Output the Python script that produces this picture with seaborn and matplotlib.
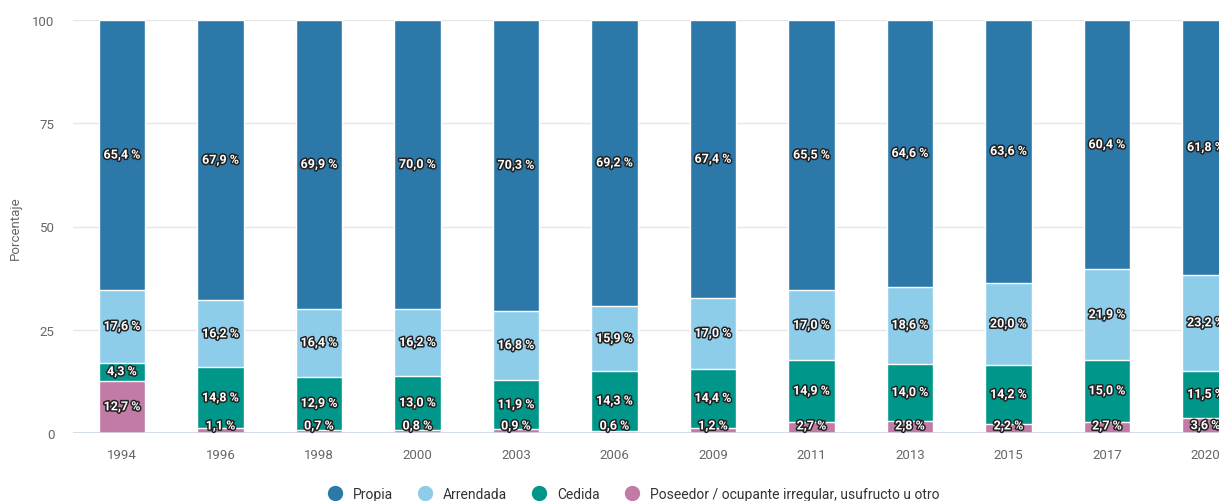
import matplotlib
matplotlib.use('Agg')
import matplotlib.pyplot as plt
import matplotlib.patheffects as pe
from matplotlib.lines import Line2D
import pandas as pd
import seaborn as sns

# %% data (percent of households by tenure)
years = ['1994', '1996', '1998', '2000', '2003', '2006', '2009', '2011', '2013', '2015', '2017', '2020']
propia = [65.4, 67.9, 69.9, 70.0, 70.3, 69.2, 67.4, 65.5, 64.6, 63.6, 60.4, 61.8]
arrendada = [17.6, 16.2, 16.4, 16.2, 16.8, 15.9, 17.0, 17.0, 18.6, 20.0, 21.9, 23.2]
cedida = [4.3, 14.8, 12.9, 13.0, 11.9, 14.3, 14.4, 14.9, 14.0, 14.2, 15.0, 11.5]
poseedor = [12.7, 1.1, 0.7, 0.8, 0.9, 0.6, 1.2, 2.7, 2.8, 2.2, 2.7, 3.6]

names = ['Propia', 'Arrendada', 'Cedida', 'Poseedor / ocupante irregular, usufructo u otro']
colors = ['#2c78a9', '#8ecde9', '#00968a', '#c27ba4']
raw = dict(zip(names, [propia, arrendada, cedida, poseedor]))

df = pd.DataFrame({'year': years, **raw})
# percent stacking: normalise each year to 100
tot = df[names].sum(axis=1)
for n in names:
    df[n] = df[n] / tot * 100

# stack from the bottom: poseedor, cedida, arrendada, propia
stack_order = names[::-1]
cum = df[stack_order].cumsum(axis=1)

# %% plot
sns.set_theme(style='white')
plt.rcParams['font.family'] = ['Roboto', 'DejaVu Sans']

W, H = 1219, 502
fig = plt.figure(figsize=(W / 100, H / 100), dpi=100)
ax = fig.add_axes([72.75 / W, 68 / H, 1182 / W, 413 / H])

# draw top of stack first so lower segments sit on top
for n, c in zip(names, colors):
    sns.barplot(x=df['year'], y=cum[n], color=c, width=0.47, ax=ax,
                edgecolor='white', linewidth=1, saturation=1, order=years)

# labels
for i, y in enumerate(years):
    bottom = 0
    for n in stack_order:
        v = df.loc[i, n]
        yc = max(bottom + v / 2, 1.7)
        ax.text(i, yc, f'{raw[n][i]:.1f} %'.replace('.', ','), ha='center', va='center',
                fontsize=9, fontweight='bold', color='white',
                path_effects=[pe.withStroke(linewidth=2.2, foreground='#222222')], zorder=5)
        bottom += v

ax.set_xlim(-0.5, 11.5)
ax.set_ylim(0, 100)
ax.set_yticks([0, 25, 50, 75, 100])
ax.set_xlabel('')
ax.set_ylabel('')
ax.grid(axis='y', color='#e6e6e6', linewidth=1)
ax.set_axisbelow(True)
for s in ax.spines.values():
    s.set_visible(False)
ax.axhline(0, color='#ccd6eb', linewidth=1.2, zorder=4)
ax.tick_params(axis='both', length=0, labelsize=9.5, colors='#666666')
ax.tick_params(axis='x', pad=11)
ax.tick_params(axis='y', pad=13)

fig.text(15 / W, 1 - 228 / H, 'Porcentaje', rotation=90, ha='center', va='center',
         fontsize=9.5, color='#666666')

handles = [Line2D([0], [0], marker='o', linestyle='', markersize=10, color=c) for c in colors]
fig.legend(handles, names, loc='center', bbox_to_anchor=(630 / W, 1 - 495 / H), ncol=4,
           frameon=False, fontsize=10, handletextpad=0.3, columnspacing=1.3,
           labelcolor='#333333')

fig.savefig('out.png', dpi=100)
